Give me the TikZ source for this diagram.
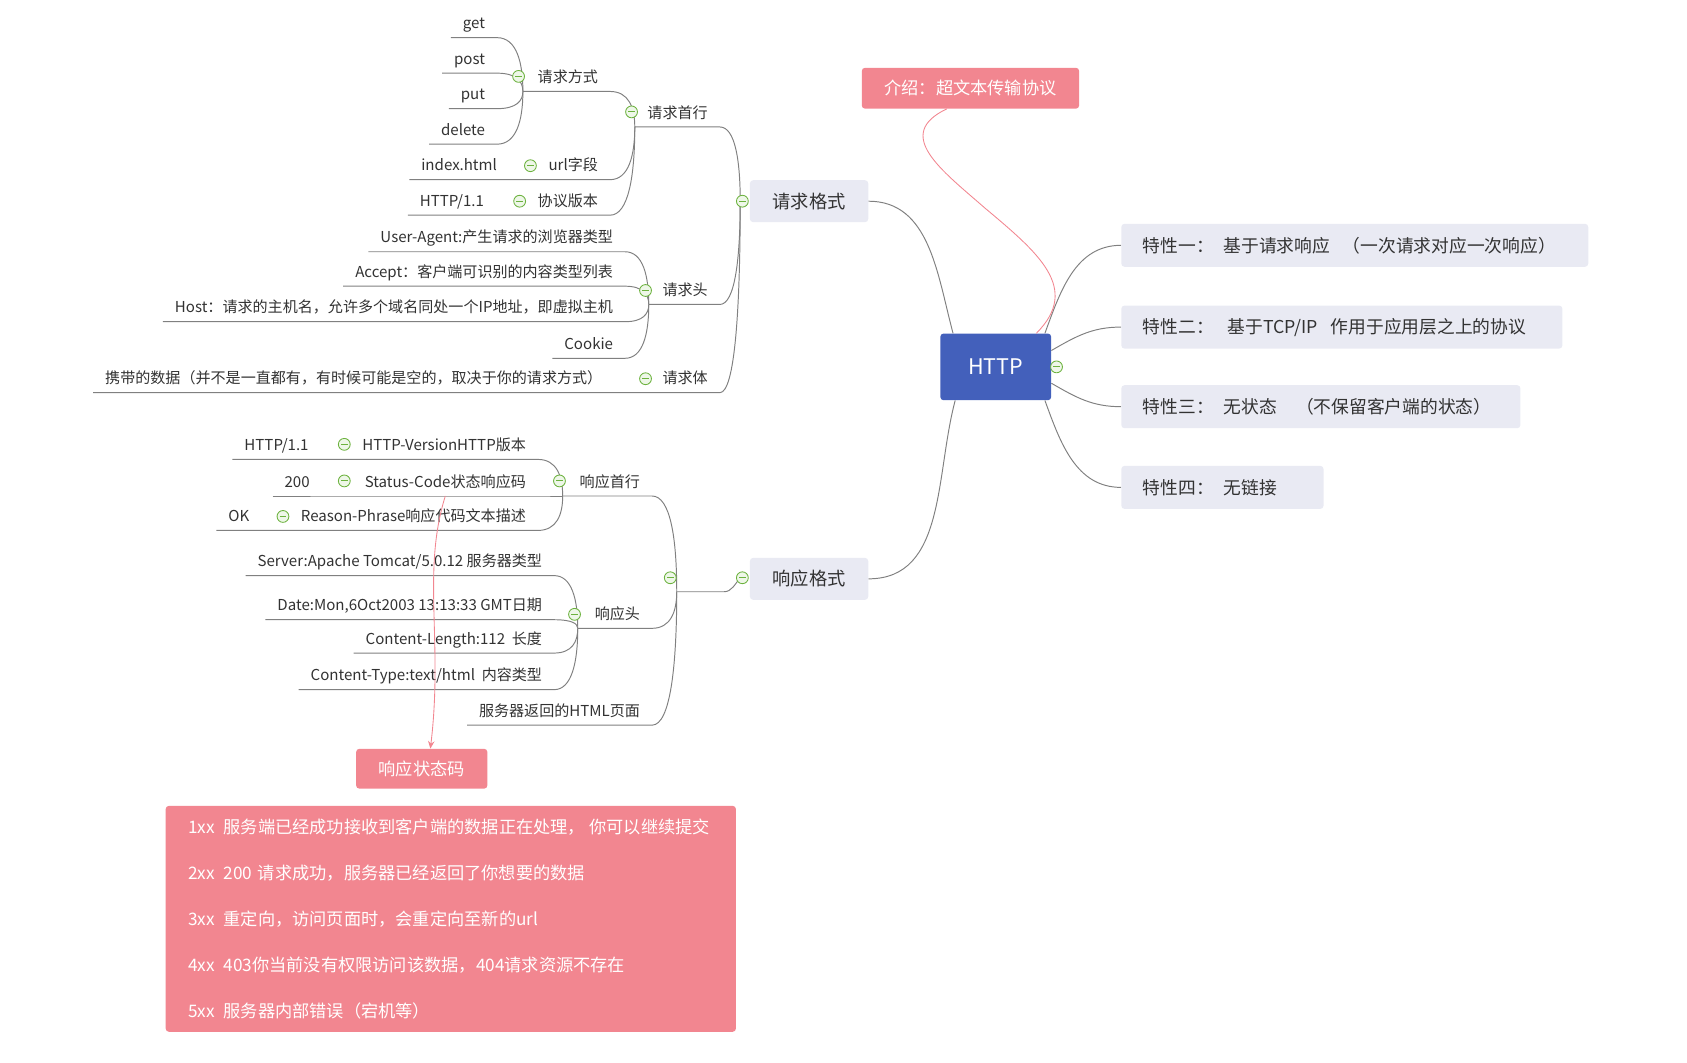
\documentclass[tikz,border=0pt]{standalone}
\usepackage{fontspec}
\setmainfont{Noto Sans CJK SC}
\usetikzlibrary{arrows.meta,calc,backgrounds}
\definecolor{kline}{RGB}{128,128,128}
\definecolor{ktext}{RGB}{50,50,50}
\definecolor{kgray}{RGB}{233,234,243}
\definecolor{kblue}{RGB}{67,96,187}
\definecolor{kpink}{RGB}{242,134,144}
\definecolor{kgreen}{RGB}{108,178,62}
\definecolor{kgreenfill}{RGB}{238,247,232}
\tikzset{
  topic/.style={anchor=south east, inner xsep=11pt, inner ysep=5pt, text height=0.75em, text depth=0.3em, text=ktext, font=\fontsize{14}{16}\selectfont},
  kmain/.style={fill=kgray, rounded corners=3pt, text=ktext, minimum width=110pt, minimum height=39pt, font=\fontsize{17}{20}\selectfont},
  kfeat/.style={fill=kgray, rounded corners=3pt, anchor=west, align=left, inner xsep=20pt, minimum height=40pt, text=ktext, font=\fontsize{16.5}{20}\selectfont},
  kroot/.style={fill=kblue, rounded corners=3pt, text=white, minimum width=103pt, minimum height=62pt, font=\fontsize{20}{24}\selectfont},
  knote/.style={fill=kpink, rounded corners=3pt, text=white, font=\fontsize{16}{20}\selectfont},
  fold/.style={circle, draw=kgreen, fill=kgreenfill, line width=0.8pt, minimum size=11pt, inner sep=0pt,
    path picture={\draw[kgreen, line width=1pt] ([xshift=-3pt]path picture bounding box.center) -- ([xshift=3pt]path picture bounding box.center);}},
  link/.style={draw=kline, line width=0.9pt},
  branch/.style={to path={.. controls ($(\tikztostart)!0.75!(\tikztostart-|\tikztotarget)$) and ($(\tikztotarget)!0.55!(\tikztotarget|-\tikztostart)$) .. (\tikztotarget)}},
  rel/.style={draw=kpink, line width=0.8pt},
}

\begin{document}
\begin{tikzpicture}[x=1pt, y=1pt]
    \useasboundingbox (0,0) rectangle (1568,-988);
    \node[kroot] (http) at (925.5,-341) {HTTP};
    \node[fold] (chttp) at (982,-341) {};
    \node[knote, minimum width=202pt, minimum height=38pt] (intro) at (902,-82) {介绍：超文本传输协议};
    \node[kfeat, text width=394pt] (tx1) at (1042,-228) {特性一：\hspace{9pt}基于请求响应\hspace{12pt}（一次请求对应一次响应）};
    \node[kfeat, text width=370pt] (tx2) at (1042,-304) {特性二：\hspace{13pt}基于TCP/IP\hspace{12pt}作用于应用层之上的协议};
    \node[kfeat, text width=331pt] (tx3) at (1042,-378) {特性三：\hspace{9pt}无状态\hspace{18pt}（不保留客户端的状态）};
    \node[kfeat, text width=148pt] (tx4) at (1042,-453) {特性四：\hspace{9pt}无链接};
    \node[kmain] (qqgs) at (752,-187) {请求格式};
    \node[fold] (cqqgs) at (690,-187) {};
    \coordinate (hqqgs) at (688,-187);
    \node[kmain] (xygs) at (752,-538) {响应格式};
    \node[fold] (cxygs) at (690,-537) {};
    \coordinate (hxygs) at (688,-537);

    \node[topic] (qqsh) at (669,-118) {请求首行};
    \node[fold] (cqqsh) at (587,-104) {};
    \coordinate (hqqsh) at (590,-118);
    \node[topic] (qqfs) at (567,-85) {请求方式};
    \node[fold] (cqqfs) at (482,-71) {};
    \coordinate (hqqfs) at (486,-85);
    \node[topic] (get) at (462,-35) {get};
    \node[topic] (post) at (462,-68) {post};
    \node[topic] (put) at (462,-101) {put};
    \node[topic] (delete) at (462,-134) {delete};
    \node[topic] (url) at (567,-167) {url字段};
    \node[fold] (curl) at (493,-154) {};
    \coordinate (hurl) at (496,-167);
    \node[topic] (index) at (473,-167) {index.html};
    \node[topic] (xybb) at (567,-200) {协议版本};
    \node[fold] (cxybb) at (483,-187) {};
    \coordinate (hxybb) at (486,-200);
    \node[topic] (qver) at (461,-200) {HTTP/1.1};
    \node[topic] (qqt) at (669,-283) {请求头};
    \node[fold] (cqqt) at (600,-270) {};
    \coordinate (hqqt) at (603,-283);
    \node[topic] (agent) at (581,-234) {User-Agent:产生请求的浏览器类型};
    \node[topic] (accept) at (581,-266) {Accept：客户端可识别的内容类型列表};
    \node[topic] (host) at (581,-299) {Host：请求的主机名，允许多个域名同处一个IP地址，即虚拟主机};
    \node[topic] (cookie) at (581,-333) {Cookie};
    \node[topic] (qqti) at (669,-365) {请求体};
    \node[fold] (cqqti) at (600,-352) {};
    \coordinate (hqqti) at (603,-365);
    \node[topic] (data) at (571,-365) {携带的数据（并不是一直都有，有时候可能是空的，取决于你的请求方式）};

    \coordinate (hmid) at (629,-550);
    \node[fold] (cmid) at (623,-537) {};
    \node[topic] (xysh) at (606,-461) {响应首行};
    \node[fold] (cxysh) at (520,-447) {};
    \coordinate (hxysh) at (523,-461);
    \node[topic] (hver) at (500,-427) {HTTP-VersionHTTP版本};
    \node[fold] (chver) at (320,-413) {};
    \coordinate (hhver) at (323,-427);
    \node[topic] (hverv) at (298,-427) {HTTP/1.1};
    \node[topic] (code) at (500,-461) {Status-Code状态响应码};
    \node[fold] (ccode) at (320,-447) {};
    \coordinate (hcode) at (323,-461);
    \node[topic] (codev) at (299,-461) {200};
    \node[topic] (phrase) at (500,-493) {Reason-Phrase响应代码文本描述};
    \node[fold] (cphrase) at (263,-480) {};
    \coordinate (hphrase) at (266,-493);
    \node[topic] (phrasev) at (243,-493) {OK};
    \node[topic] (xyt) at (606,-584) {响应头};
    \node[fold] (cxyt) at (534,-571) {};
    \coordinate (hxyt) at (537,-584);
    \node[topic] (server) at (515,-535) {Server:Apache Tomcat/5.0.12 服务器类型};
    \node[topic] (date) at (515,-576) {Date:Mon,6Oct2003 13:13:33 GMT日期};
    \node[topic] (clen) at (515,-607) {Content-Length:112\ \ 长度};
    \node[topic] (ctype) at (515,-641) {Content-Type:text/html\ \ 内容类型};
    \node[topic] (page) at (606,-674) {服务器返回的HTML页面};

    \node[knote, minimum width=122pt, minimum height=37pt] (codebox) at (392,-714.5) {响应状态码};
    \node[knote, text width=488pt, inner xsep=21pt, minimum height=210pt, align=left, font=\fontsize{16}{42.75}\selectfont] (codelist) at (419,-854)
      {1xx\hspace{8pt}服务端已经成功接收到客户端的数据正在处理，\hspace{4pt}你可以继续提交\\
       2xx\hspace{8pt}200 请求成功，服务器已经返回了你想要的数据\\
       3xx\hspace{8pt}重定向，访问页面时，会重定向至新的url\\
       4xx\hspace{8pt}403你当前没有权限访问该数据，404请求资源不存在\\
       5xx\hspace{8pt}服务器内部错误（宕机等）};

    \begin{scope}[on background layer]
    \draw[link] (qqgs.east) to[out=0, in=105] ([xshift=12pt]http.north west);
    \draw[link] (xygs.east) to[out=0, in=-105] ([xshift=14pt]http.south west);
    \draw[link] (tx1.west) to[out=180, in=70] ([xshift=-6pt]http.north east);
    \draw[link] (tx2.west) to[out=180, in=30] ([yshift=-16pt]http.north east);
    \draw[link] (tx3.west) to[out=180, in=-30] ([yshift=16pt]http.south east);
    \draw[link] (tx4.west) to[out=180, in=-70] ([xshift=-6pt]http.south east);

    \draw[link] (get.south west) -- (get.south east) to[branch] (hqqfs);
    \draw[link] (post.south west) -- (post.south east) to[branch] (hqqfs);
    \draw[link] (put.south west) -- (put.south east) to[branch] (hqqfs);
    \draw[link] (delete.south west) -- (delete.south east) to[branch] (hqqfs);
    \draw[link] (hqqfs) -- (qqfs.south east) to[branch] (hqqsh);
    \draw[link] (index.south west) -- (hurl) -- (url.south east) to[branch] (hqqsh);
    \draw[link] (qver.south west) -- (hxybb) -- (xybb.south east) to[branch] (hqqsh);
    \draw[link] (hqqsh) -- (qqsh.south east) to[branch] (hqqgs);
    \draw[link] (agent.south west) -- (agent.south east) to[branch] (hqqt);
    \draw[link] (accept.south west) -- (accept.south east) to[branch] (hqqt);
    \draw[link] (host.south west) -- (host.south east) to[branch] (hqqt);
    \draw[link] (cookie.south west) -- (cookie.south east) to[branch] (hqqt);
    \draw[link] (hqqt) -- (qqt.south east) to[branch] (hqqgs);
    \draw[link] (data.south west) -- (hqqti) -- (qqti.south east) to[branch] (hqqgs);

    \draw[link] (hmid) -- ++(44,0) .. controls +(7,0) and +(-5,-6) .. (hxygs);
    \draw[link] (hverv.south west) -- (hhver) -- (hver.south east) to[branch] (hxysh);
    \draw[link] (codev.south west) -- (hcode) -- (code.south east) -- (hxysh);
    \draw[link] (phrasev.south west) -- (hphrase) -- (phrase.south east) to[branch] (hxysh);
    \draw[link] (hxysh) -- (xysh.south east) to[branch] (hmid);
    \draw[link] (server.south west) -- (server.south east) to[branch] (hxyt);
    \draw[link] (date.south west) -- (date.south east) to[branch] (hxyt);
    \draw[link] (clen.south west) -- (clen.south east) to[branch] (hxyt);
    \draw[link] (ctype.south west) -- (ctype.south east) to[branch] (hxyt);
    \draw[link] (hxyt) -- (xyt.south east) to[branch] (hmid);
    \draw[link] (page.south west) -- (page.south east) to[branch] (hmid);
    \end{scope}

    \draw[rel] ([xshift=-22pt]intro.south) .. controls (830,-125) and (875,-158) .. (915,-193)
      .. controls (965,-235) and (1005,-268) .. ([xshift=-14pt]http.north east);
    \draw[rel, -{Stealth[length=7pt, width=6pt]}] (code.south) .. controls +(-22,-70) and +(12,100) .. ([xshift=8pt]codebox.north);
  \end{tikzpicture}
\end{document}
